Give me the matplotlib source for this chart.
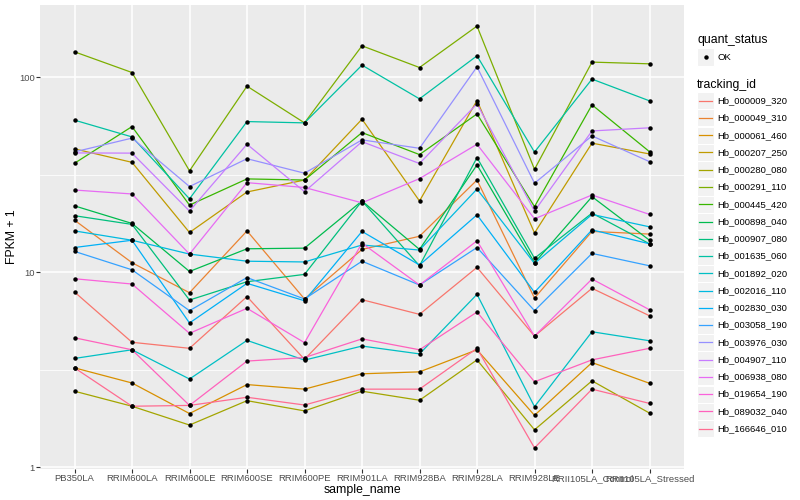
import numpy as np
import matplotlib
matplotlib.use("Agg")
import matplotlib.pyplot as plt
from matplotlib.patches import Rectangle
from matplotlib.lines import Line2D
from matplotlib.ticker import FixedLocator, NullFormatter

plt.rcParams['font.family'] = ['Liberation Sans', 'DejaVu Sans']

#%% Data (FPKM + 1)
samples = ["PB350LA", "RRIM600LA", "RRIM600LE", "RRIM600SE", "RRIM600PE", "RRIM901LA",
           "RRIM928BA", "RRIM928LA", "RRIM928LE", "RRII105LA_Control", "RRII105LA_Stressed"]

hb_000009_320 = [7.93, 4.38, 4.08, 7.51, 3.58, 7.24, 6.09, 10.6, 4.71, 8.28, 5.99]
hb_000049_310 = [18.5, 11.2, 7.86, 16.3, 7.30, 13.1, 15.3, 29.7, 7.38, 16.2, 15.7]
hb_000061_460 = [3.24, 2.71, 1.89, 2.66, 2.52, 3.02, 3.09, 4.01, 1.85, 3.45, 2.70]
hb_000207_250 = [42.9, 36.6, 16.0, 25.8, 29.7, 60.9, 23.2, 75.9, 15.9, 45.9, 40.4]
hb_000280_080 = [2.46, 2.06, 1.65, 2.20, 1.95, 2.46, 2.21, 3.56, 1.56, 2.78, 1.90]
hb_000291_110 = [134.8, 105.6, 33.1, 89.9, 58.3, 144.7, 112.0, 182.6, 33.7, 119.4, 117.0]
hb_000445_420 = [36.2, 55.8, 22.1, 30.1, 29.7, 52.0, 40.1, 64.8, 21.7, 72.1, 41.5]
hb_000898_040 = [21.9, 17.8, 10.1, 13.2, 13.3, 23.2, 13.1, 35.5, 11.2, 24.4, 14.6]
hb_000907_080 = [19.5, 17.6, 7.21, 8.95, 9.76, 23.2, 10.8, 38.7, 11.8, 20.1, 14.0]
hb_001635_060 = [60.2, 49.4, 23.8, 59.2, 58.3, 115.2, 77.4, 128.6, 41.3, 97.7, 75.6]
hb_001892_020 = [3.62, 4.01, 2.84, 4.48, 3.55, 4.19, 3.82, 7.71, 2.05, 4.96, 4.46]
hb_002016_110 = [16.3, 14.6, 12.4, 11.4, 11.3, 13.8, 13.0, 26.7, 11.1, 19.8, 17.1]
hb_002830_030 = [13.4, 14.6, 5.50, 8.78, 7.15, 16.2, 10.9, 19.7, 7.90, 16.5, 14.0]
hb_003058_190 = [12.8, 10.3, 6.36, 9.40, 7.30, 11.4, 8.61, 13.4, 6.36, 12.5, 10.8]
hb_003976_030 = [41.4, 48.7, 27.5, 38.2, 32.2, 47.7, 43.2, 112.9, 28.6, 50.0, 36.9]
hb_004907_110 = [40.9, 40.8, 20.6, 45.3, 25.9, 46.7, 36.1, 73.0, 20.6, 53.0, 55.0]
hb_006938_080 = [26.4, 25.2, 12.4, 28.8, 27.2, 22.7, 30.2, 45.3, 18.8, 24.9, 19.8]
hb_019654_190 = [9.27, 8.71, 4.87, 6.54, 4.36, 14.1, 8.61, 14.5, 4.71, 9.24, 6.43]
hb_089032_040 = [4.62, 4.01, 2.08, 3.51, 3.66, 4.56, 4.01, 6.26, 2.75, 3.56, 4.08]
hb_166646_010 = [3.24, 2.06, 2.08, 2.29, 2.09, 2.52, 2.52, 4.08, 1.26, 2.52, 2.13]

tracking_ids = ["Hb_000009_320", "Hb_000049_310", "Hb_000061_460", "Hb_000207_250",
                "Hb_000280_080", "Hb_000291_110", "Hb_000445_420", "Hb_000898_040",
                "Hb_000907_080", "Hb_001635_060", "Hb_001892_020", "Hb_002016_110",
                "Hb_002830_030", "Hb_003058_190", "Hb_003976_030", "Hb_004907_110",
                "Hb_006938_080", "Hb_019654_190", "Hb_089032_040", "Hb_166646_010"]
series = [hb_000009_320, hb_000049_310, hb_000061_460, hb_000207_250, hb_000280_080,
          hb_000291_110, hb_000445_420, hb_000898_040, hb_000907_080, hb_001635_060,
          hb_001892_020, hb_002016_110, hb_002830_030, hb_003058_190, hb_003976_030,
          hb_004907_110, hb_006938_080, hb_019654_190, hb_089032_040, hb_166646_010]

# ggplot default hue palette, 20 levels
colors = ["#F8766D", "#EA8331", "#D89000", "#C09B00", "#A3A500", "#7CAE00", "#39B600",
          "#00BB4E", "#00BF7D", "#00C1A3", "#00BFC4", "#00BAE0", "#00B0F6", "#35A2FF",
          "#9590FF", "#C77CFF", "#E76BF3", "#FA62DB", "#FF62BC", "#FF6C91"]

#%% Plot
W, H = 800, 500
fig = plt.figure(figsize=(8, 5), dpi=100)
ax = fig.add_axes([40/W, 1-469/H, 644/W, 464/H])
ax.set_facecolor("#EBEBEB")
for s in ax.spines.values():
    s.set_visible(False)

x = np.arange(1, len(samples)+1)
for vals, col in zip(series, colors):
    ax.plot(x, vals, color=col, lw=0.9, zorder=3)
for vals in series:
    ax.plot(x, vals, "o", color="black", ms=3.2, zorder=4, mec="none")

ax.set_yscale("log")
logs = np.log10(np.concatenate([np.array(v) for v in series]))
lo, hi = logs.min(), logs.max()
pad = 0.05*(hi-lo)
ax.set_ylim(10**(lo-pad), 10**(hi+pad))
ax.set_xlim(0.4, len(samples)+0.6)

ax.yaxis.set_major_locator(FixedLocator([1, 10, 100]))
ax.set_yticklabels(["1", "10", "100"])
ax.yaxis.set_minor_locator(FixedLocator([10**0.5, 10**1.5]))
ax.yaxis.set_minor_formatter(NullFormatter())
ax.set_xticks(x)
ax.set_xticklabels(samples)

ax.grid(which="major", color="white", lw=1.1, zorder=1)
ax.grid(which="minor", axis="y", color="white", lw=0.55, zorder=1)
ax.set_axisbelow(True)
ax.tick_params(which="major", length=2.75, width=0.8, color="#333333",
               labelsize=6.8, labelcolor="#4D4D4D", pad=1)
ax.tick_params(which="minor", length=0)

ax.set_xlabel("sample_name", fontsize=8.8)
ax.xaxis.set_label_coords(0.5, -(484-469)/464)
ax.set_ylabel("FPKM + 1", fontsize=8.8)
ax.yaxis.set_label_coords(-(40-18)/644, 0.5)

#%% Legends (drawn by hand to mimic ggplot guides)
def fx(px):
    return px/W

def fy(py):
    return 1 - py/H

kx0, kw, kh = 697, 17, 17
fig.text(fx(kx0), fy(40), "quant_status", fontsize=8.8, va="center", ha="left")
fig.patches.append(Rectangle((fx(kx0), fy(57+kh/2)), kw/W, kh/H, transform=fig.transFigure,
                             facecolor="#F2F2F2", edgecolor="white", lw=0.8))
fig.lines.append(Line2D([fx(kx0+kw/2)], [fy(57)], marker="o", ms=3.2, color="black",
                        mec="none", transform=fig.transFigure))
fig.text(fx(kx0+kw+3), fy(57), "OK", fontsize=6.8, va="center", ha="left")

fig.text(fx(kx0), fy(85), "tracking_id", fontsize=8.8, va="center", ha="left")
step = 17.26
for i, (name, col) in enumerate(zip(tracking_ids, colors)):
    cy = 100.7 + i*step
    fig.patches.append(Rectangle((fx(kx0), fy(cy+kh/2)), kw/W, kh/H, transform=fig.transFigure,
                                 facecolor="#F2F2F2", edgecolor="white", lw=0.8))
    fig.lines.append(Line2D([fx(kx0+2), fx(kx0+kw-2)], [fy(cy), fy(cy)], color=col, lw=0.9,
                            transform=fig.transFigure))
    fig.text(fx(kx0+kw+3), fy(cy), name, fontsize=6.8, va="center", ha="left")

fig.savefig("out.png", dpi=100)
